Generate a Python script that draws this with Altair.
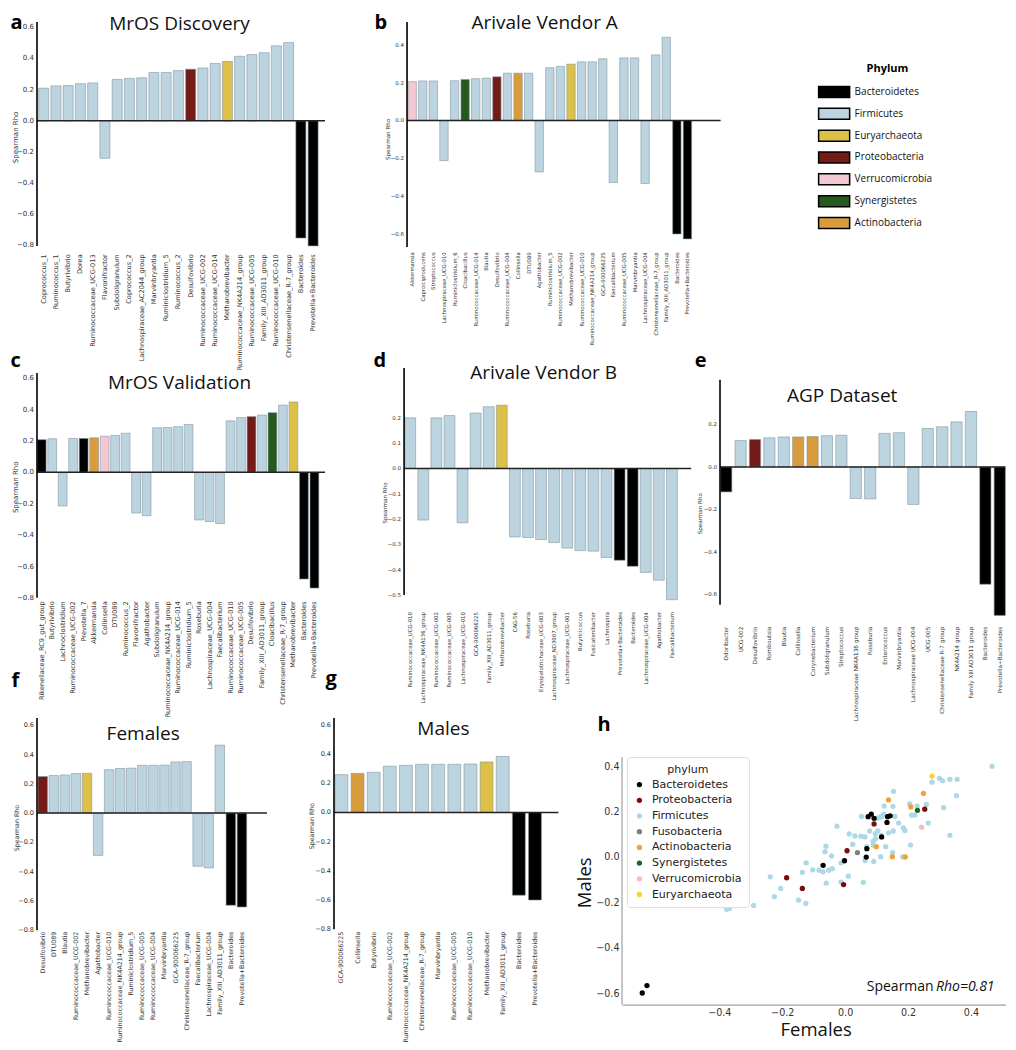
import altair as alt
import pandas as pd

# ---------------------------------------------------------------- data
BAC, FIR, EUR, PRO, VER, SYN, ACT = ("Bacteroidetes", "Firmicutes", "Euryarchaeota",
                                     "Proteobacteria", "Verrucomicrobia", "Synergistetes",
                                     "Actinobacteria")
PHYLA = [BAC, FIR, EUR, PRO, VER, SYN, ACT]
PHYLA_COLORS = ["#000000", "#bcd4e0", "#dcc048", "#731b17", "#f2c8d2", "#26591d", "#d89c3c"]

a_names = ["Coprococcus_1", "Ruminococcus_1", "Butyrivibrio", "Dorea", "Ruminococcaceae_UCG-013",
           "Flavonifractor", "Subdoligranulum", "Coprococcus_2", "Lachnospiraceae_AC2044_group",
           "Marvinbryantia", "Ruminiclostridium_5", "Ruminococcus_2", "Desulfovibrio",
           "Ruminococcaceae_UCG-002", "Ruminococcaceae_UCG-014", "Methanobrevibacter",
           "Ruminococcaceae_NK4A214_group", "Ruminococcaceae_UCG-005", "Family_XIII_AD3011_group",
           "Ruminococcaceae_UCG-010", "Christensenellaceae_R-7_group", "Bacteroides",
           "Prevotella+Bacteroides"]
a_vals = [0.209, 0.224, 0.226, 0.238, 0.243, -0.241, 0.266, 0.272, 0.276, 0.310, 0.310, 0.322,
          0.331, 0.339, 0.368, 0.381, 0.414, 0.425, 0.437, 0.481, 0.502, -0.753, -0.803]
a_phyla = [FIR] * 12 + [PRO, FIR, FIR, EUR] + [FIR] * 5 + [BAC, BAC]

b_names = ["Akkermansia", "Caproiciproducens", "Streptococcus", "Lachnospiraceae_UCG-010",
           "Ruminiclostridium_6", "Cloacibacillus", "Ruminococcaceae_UCG-014", "Blautia",
           "Desulfovibrio", "Ruminococcaceae_UCG-004", "Collinsella", "DTU089", "Agathobacter",
           "Ruminiclostridium_5", "Ruminococcaceae_UCG-002", "Methanobrevibacter",
           "Ruminococcaceae_UCG-010", "Ruminococcaceae_NK4A214_group", "GCA-900066225",
           "Faecalibacterium", "Ruminococcaceae_UCG-005", "Marvinbryantia",
           "Lachnospiraceae_UCG-004", "Christensenellaceae_R-7_group", "Family_XIII_AD3011_group",
           "Bacteroides", "Prevotella+Bacteroides"]
b_vals = [0.205, 0.209, 0.209, -0.212, 0.210, 0.217, 0.221, 0.224, 0.231, 0.250, 0.250, 0.250,
          -0.272, 0.279, 0.286, 0.298, 0.310, 0.310, 0.326, -0.328, 0.331, 0.331, -0.333, 0.347,
          0.440, -0.600, -0.626]
b_phyla = [VER, FIR, FIR, FIR, FIR, SYN, FIR, FIR, PRO, FIR, ACT, FIR, FIR, FIR, FIR, EUR,
           FIR, FIR, FIR, FIR, FIR, FIR, FIR, FIR, FIR, BAC, BAC]

c_names = ["Rikenellaceae_RC9_gut_group", "Butyrivibrio", "Lachnoclostridium",
           "Ruminococcaceae_UCG-002", "Prevotella_7", "Akkermansia", "Collinsella", "DTU089",
           "Ruminococcus_2", "Flavonifractor", "Agathobacter", "Subdoligranulum",
           "Ruminococcaceae_NK4A214_group", "Ruminococcaceae_UCG-014", "Ruminiclostridium_5",
           "Roseburia", "Lachnospiraceae_UCG-004", "Faecalibacterium", "Ruminococcaceae_UCG-010",
           "Ruminococcaceae_UCG-005", "Desulfovibrio", "Family_XIII_AD3011_group",
           "Cloacibacillus", "Christensenellaceae_R-7_group", "Methanobrevibacter", "Bacteroides",
           "Prevotella+Bacteroides"]
c_vals = [0.208, 0.214, -0.214, 0.216, 0.216, 0.220, 0.230, 0.235, 0.249, -0.259, -0.276, 0.284,
          0.286, 0.291, 0.305, -0.303, -0.313, -0.326, 0.328, 0.349, 0.355, 0.365, 0.380, 0.428,
          0.448, -0.679, -0.737]
c_phyla = [BAC, FIR, FIR, FIR, BAC, ACT, VER, FIR, FIR, FIR, FIR, FIR, FIR, FIR, FIR, FIR,
           FIR, FIR, FIR, FIR, PRO, FIR, SYN, FIR, EUR, BAC, BAC]

d_names = ["Ruminococcaceae_UCG-010", "Lachnospiraceae_NK4A136_group", "Ruminococcaceae_UCG-002",
           "Ruminococcaceae_UCG-005", "Lachnospiraceae_UCG-010", "GCA-900066225",
           "Family_XIII_AD3011_group", "Methanobrevibacter", "CAG-56", "Roseburia",
           "Erysipelotrichaceae_UCG-003", "Lachnospiraceae_ND3007_group",
           "Lachnospiraceae_UCG-001", "Butyricicoccus", "Fusicatenibacter", "Lachnospira",
           "Prevotella+Bacteroides", "Bacteroides", "Lachnospiraceae_UCG-004", "Agathobacter",
           "Faecalibacterium"]
d_vals = [0.200, -0.204, 0.200, 0.209, -0.215, 0.219, 0.244, 0.250, -0.271, -0.273, -0.281,
          -0.293, -0.315, -0.325, -0.327, -0.352, -0.363, -0.387, -0.411, -0.442, -0.519]
d_phyla = [FIR] * 7 + [EUR] + [FIR] * 8 + [BAC, BAC] + [FIR] * 3

e_names = ["Odoribacter", "UCG-002", "Desulfovibrio", "Romboutsia", "Blautia", "Collinsella",
           "Corynebacterium", "Subdoligranulum", "Streptococcus", "Lachnospiraceae NK4A136 group",
           "Roseburia", "Enterococcus", "Marvinbryantia", "Lachnospiraceae UCG-004", "UCG-005",
           "Christensenellaceae R-7 group", "NK4A214 group", "Family XIII AD3011 group",
           "Bacteroides", "Prevotella+Bacteroides"]
e_vals = [-0.118, 0.124, 0.129, 0.137, 0.141, 0.141, 0.143, 0.147, 0.149, -0.149, -0.151, 0.158,
          0.161, -0.177, 0.181, 0.189, 0.212, 0.261, -0.553, -0.700]
e_phyla = [BAC, FIR, PRO, FIR, FIR, ACT, ACT, FIR, FIR, FIR, FIR, FIR, FIR, FIR, FIR, FIR,
           FIR, FIR, BAC, BAC]

f_names = ["Desulfovibrio", "DTU089", "Blautia", "Ruminococcaceae_UCG-002", "Methanobrevibacter",
           "Agathobacter", "Ruminococcaceae_UCG-010", "Ruminococcaceae_NK4A214_group",
           "Ruminiclostridium_5", "Ruminococcaceae_UCG-005", "Ruminococcaceae_UCG-004",
           "Marvinbryantia", "GCA-900066225", "Christensenellaceae_R-7_group", "Faecalibacterium",
           "Lachnospiraceae_UCG-004", "Family_XIII_AD3011_group", "Bacteroides",
           "Prevotella+Bacteroides"]
f_vals = [0.250, 0.257, 0.261, 0.270, 0.272, -0.290, 0.297, 0.305, 0.307, 0.327, 0.327, 0.328,
          0.350, 0.352, -0.364, -0.375, 0.465, -0.631, -0.643]
f_phyla = [PRO, FIR, FIR, FIR, EUR] + [FIR] * 12 + [BAC, BAC]

g_names = ["GCA-900066225", "Collinsella", "Butyrivibrio", "Ruminococcaceae_UCG-002",
           "Ruminococcaceae_NK4A214_group", "Christensenellaceae_R-7_group", "Marvinbryantia",
           "Ruminococcaceae_UCG-005", "Ruminococcaceae_UCG-010", "Methanobrevibacter",
           "Family_XIII_AD3011_group", "Bacteroides", "Prevotella+Bacteroides"]
g_vals = [0.259, 0.268, 0.275, 0.317, 0.323, 0.330, 0.330, 0.330, 0.332, 0.346, 0.384,
          -0.567, -0.600]
g_phyla = [FIR, ACT, FIR, FIR, FIR, FIR, FIR, FIR, FIR, EUR, FIR, BAC, BAC]

# y tick labels of the bar panels
TICKS_08 = [-0.8, -0.6, -0.4, -0.2, 0.0, 0.2, 0.4, 0.6]
TICKS_B = [-0.6, -0.4, -0.2, 0.0, 0.2, 0.4]
TICKS_D = [-0.5, -0.4, -0.3, -0.2, -0.1, 0.0, 0.1, 0.2]
TICKS_E = [-0.6, -0.4, -0.2, 0.0, 0.2]

# scatter (panel h): females rho, males rho per genus
H_PHYLA = ["Bacteroidetes", "Proteobacteria", "Firmicutes", "Fusobacteria", "Actinobacteria",
           "Synergistetes", "Verrucomicrobia", "Euryarchaeota"]
H_COLORS = ["#000000", "#7b0c0c", "#add8e6", "#7f7f7f", "#f5a033", "#1f641e", "#ffb6c1",
            "#fbd233"]
firm_f = [0.467, 0.276, 0.300, 0.310, 0.333, 0.356, 0.154, 0.354, 0.124, 0.152, 0.205, 0.229,
          0.258, 0.313, 0.211, 0.222, 0.264, 0.052, 0.115, 0.123, 0.108, 0.158, 0.101, 0.170,
          0.185, 0.190, 0.153, 0.138, 0.104, 0.078, 0.096, 0.115, 0.097, 0.063, 0.050, 0.031,
          0.013, -0.026, 0.333, 0.208, 0.129, 0.089, 0.089, 0.068, 0.151, 0.183, 0.113, 0.091,
          0.063, 0.024, -0.013, -0.061, -0.064, -0.043, -0.124, -0.136, -0.103, -0.083, -0.070,
          -0.052, -0.041, 0.010, -0.013, -0.060, 0.058, -0.238, -0.205, -0.225, -0.148, -0.125,
          -0.291, -0.377, -0.368]
firm_m = [0.399, 0.329, 0.346, 0.335, 0.342, 0.342, 0.289, 0.270, 0.224, 0.223, 0.234, 0.224,
          0.231, 0.217, 0.184, 0.185, 0.149, 0.178, 0.177, 0.188, 0.174, 0.178, 0.170, 0.149,
          0.128, 0.116, 0.114, 0.106, 0.114, 0.114, 0.102, 0.095, 0.080, 0.088, 0.091, 0.092,
          0.101, 0.135, 0.095, 0.052, 0.045, 0.069, 0.052, 0.045, 0.019, 0.000, 0.001, -0.020,
          -0.016, 0.055, -0.026, 0.047, 0.023, 0.004, -0.026, -0.068, -0.057, -0.059, -0.066,
          -0.059, -0.052, -0.085, -0.111, -0.116, -0.112, -0.088, -0.139, -0.175, -0.191, -0.205,
          -0.214, -0.231, -0.227]
bact_f = [0.073, 0.083, 0.092, 0.135, 0.143, 0.133, 0.116, 0.069, 0.067, -0.002, -0.070,
          -0.630, -0.645]
bact_m = [0.177, 0.188, 0.170, 0.177, 0.181, 0.152, 0.088, 0.036, -0.001, -0.017, -0.037,
          -0.567, -0.600]
prot_f = [0.253, 0.092, 0.006, -0.005, -0.136, -0.186]
prot_m = [0.210, 0.145, 0.027, -0.122, -0.139, -0.092]
fuso_f, fuso_m = [0.039], [0.019]
acti_f = [0.138, 0.249, 0.209, 0.099, 0.150, 0.191]
acti_m = [0.251, 0.280, 0.220, 0.045, 0.001, 0.000]
syne_f, syne_m = [0.230], [0.205]
verr_f, verr_m = [0.243], [0.131]
eury_f, eury_m = [0.276], [0.356]

# ---------------------------------------------------------------- layout helpers
SX, SY = 0.983, 0.978


def tx(x):
    return 10 + (x - 2) * SX


def ty(y):
    return 12 + y * SY


P_COL, P_ROW = 8, 110
T1, T2, T3 = ty(10), ty(363), ty(720)
CX0, CX1, CX2 = tx(29), tx(330.7), tx(623)
W0 = CX1 - CX0 - P_COL
W1 = CX2 - CX1 - P_COL
W2 = tx(1013) - CX2
H1 = T2 - T1 - P_ROW
H2 = T3 - T2 - P_ROW
HF = ty(1013) - T3

ONE = pd.DataFrame({"v": [0]})


def fmt(t):
    s = "%.1f" % t
    if s == "-0.0":
        s = "0.0"
    return s.replace("-", "\u2212")


def bar_panel(names, vals, phyla, g, anchor=False):
    n = len(names)
    df = pd.DataFrame({"taxon": names, "rho": vals, "phylum": phyla})
    CX, T, W, H, Z, k = g["CX"], g["T"], g["W"], g["H"], g["Z"], g["k"]
    AX = tx(g["ax"])
    dx = AX - CX

    def val_page(py):
        return (Z - (py - 12) / SY) / k

    def val_ref(ry):
        return (Z - ry) / k

    pi = g["pi"]
    step = (g["last"] - g["first"]) / (n - pi)
    r0 = tx(g["first"] - step * pi / 2) - CX
    r1 = tx(g["last"] + step * pi / 2) - CX
    x_enc = alt.X("taxon:N", sort=names, title=None,
                  scale=alt.Scale(range=[r0, r1], paddingInner=pi, paddingOuter=pi / 2),
                  axis=alt.Axis(labelAngle=270, labelFontSize=g["fs_x"], labelFont="DejaVu Sans",
                                labelColor="#333333", labelPadding=2, ticks=False, tickSize=0,
                                domain=False, grid=False, labelOverlap=False, labelLimit=300,
                                offset=ty(g["lab"]) - (T + H) - 2))
    yscale = alt.Scale(domain=[val_page(T + H), val_page(T)], nice=False, zero=False)
    yaxis = alt.Axis(values=g["ticks"], labels=False, domain=False, ticks=False, tickSize=0,
                     grid=False, offset=-dx, title="Spearman Rho", titleFontSize=g["fs_t"],
                     titleFont="DejaVu Sans", titleFontWeight="normal", titleColor="#333333",
                     titleX=tx(g["ytx"]) - AX, titleY=ty(g["yty"]) - T, titleAngle=270,
                     titleBaseline="middle", titleAlign="center")
    bars = alt.Chart(df).mark_bar(stroke="#8597a0", strokeWidth=0.6).encode(
        x=x_enc, y=alt.Y("rho:Q", scale=yscale, axis=yaxis), y2=alt.datum(0),
        color=alt.Color("phylum:N", scale=alt.Scale(domain=PHYLA, range=PHYLA_COLORS),
                        legend=None))
    tick_df = pd.DataFrame({"rho": g["ticks"], "label": [fmt(t) for t in g["ticks"]]})
    tick_lab = alt.Chart(tick_df).mark_text(align="right", baseline="middle", font="DejaVu Sans",
                                            fontSize=g["fs_y"], color="#333333").encode(
        y=alt.Y("rho:Q", scale=yscale, axis=yaxis), x=alt.value(dx - 3), text="label:N")
    zero = alt.Chart(ONE).mark_rule(color="#222222", strokeWidth=1.5).encode(
        y=alt.datum(0), x=alt.value(dx), x2=alt.value(tx(g["zend"]) - CX))
    spine = alt.Chart(ONE).mark_rule(color="#000000", strokeWidth=1.6).encode(
        x=alt.value(dx), y=alt.datum(val_ref(g["sp_top"])), y2=alt.datum(val_ref(g["sp_bot"])))
    title = alt.Chart(ONE).mark_text(text=g["title"], font="Open Sans", fontSize=19,
                                     align="center", baseline="alphabetic", color="#111111").encode(
        x=alt.value(tx(g["tx"]) - CX), y=alt.value(ty(g["ty"]) - T))
    letter = alt.Chart(ONE).mark_text(text=g["letter"], font="Open Sans", fontSize=20,
                                      fontWeight="bold", align="left", baseline="alphabetic",
                                      color="#000000").encode(
        x=alt.value(tx(g["lx"]) - CX), y=alt.value(ty(g["ly"]) - T))
    layers = [bars, tick_lab, zero, spine, title, letter]
    if anchor:
        layers.append(alt.Chart(ONE).mark_rule(opacity=0, strokeWidth=0.01).encode(
            x=alt.value(8 - CX), x2=alt.value(9 - CX), y=alt.value(8 - T), y2=alt.value(9 - T)))
    return alt.layer(*layers).properties(width=W, height=H)


ga = dict(CX=CX0, ax=29, T=T1, W=W0, H=H1, Z=111.0, k=159.3, pi=0.18, first=30.7, last=315.0,
          lab=247, ticks=TICKS_08, fs_x=6.6, fs_y=7, fs_t=7, ytx=6.7, yty=127.5, zend=322,
          sp_top=10, sp_bot=239, title="MrOS Discovery", tx=174, ty=18, letter="a", lx=2, ly=17)
gb = dict(CX=CX1, ax=405, T=T1, W=W1, H=H1, Z=110.7, k=193.4, pi=0.21, first=406, last=694.5,
          lab=245, ticks=TICKS_B, fs_x=5.3, fs_y=5.5, fs_t=5.6,
          ytx=385, yty=129.5, zend=724, sp_top=10, sp_bot=240, title="Arivale Vendor A",
          tx=545, ty=17, letter="b", lx=372, ly=17)
gc = dict(CX=CX0, ax=29, T=T2, W=W0, H=H2, Z=469.7, k=160.6, pi=0.16, first=29.3, last=315.7,
          lab=601, ticks=TICKS_08, fs_x=6.6, fs_y=7, fs_t=7, ytx=6.7, yty=484.5, zend=322,
          sp_top=368, sp_bot=598, title="MrOS Validation", tx=174, ty=384, letter="c", lx=2,
          ly=362)
gd = dict(CX=CX1, ax=402, T=T2, W=W1, H=H2, Z=465.7, k=258.6, pi=0.17, first=402.7, last=680,
          lab=612, ticks=TICKS_D, fs_x=5.4, fs_y=5.5,
          fs_t=5.6, ytx=382, yty=500.5, zend=694, sp_top=363, sp_bot=595,
          title="Arivale Vendor B", tx=544, ty=374, letter="d", lx=371, ly=362)
ge = dict(CX=CX2, ax=722.7, T=T2, W=W2, H=H2, Z=464.1, k=217.0, pi=0.22, first=723.3, last=1013,
          lab=627, ticks=TICKS_E, fs_x=5.7, fs_y=5.5, fs_t=5.6, ytx=702,
          yty=511.5, zend=1013, sp_top=375, sp_bot=605, title="AGP Dataset", tx=847, ty=398,
          letter="e", lx=697, ly=362)
gf = dict(CX=CX0, ax=29, T=T3, W=W0, H=HF, Z=817.2, k=149.4, pi=0.14, first=30, last=242.3,
          lab=938, ticks=TICKS_08, fs_x=6.3, fs_y=6.5, fs_t=6.3, ytx=8.3, yty=832, zend=263,
          sp_top=720, sp_bot=937, title="Females", tx=137, ty=742, letter="f", lx=3, ly=688)
gg = dict(CX=CX1, ax=330.7, T=T3, W=W1, H=HF, Z=816.6, k=149.3, pi=0.2, first=331.7, last=541.7,
          lab=938, ticks=TICKS_08, fs_x=6.3, fs_y=6.5, fs_t=6.3, ytx=308.3, yty=830, zend=559,
          sp_top=720, sp_bot=936, title="Males", tx=442, ty=737, letter="g", lx=322, ly=686)

pa = bar_panel(a_names, a_vals, a_phyla, ga, anchor=True)
pb = bar_panel(b_names, b_vals, b_phyla, gb)
pc = bar_panel(c_names, c_vals, c_phyla, gc)
pd_ = bar_panel(d_names, d_vals, d_phyla, gd)
pe = bar_panel(e_names, e_vals, e_phyla, ge)
pf = bar_panel(f_names, f_vals, f_phyla, gf)
pg = bar_panel(g_names, g_vals, g_phyla, gg)

# ---------------------------------------------------------------- phylum legend cell
SWATCH = "M-1,-1H4.64V1H-1Z"
leg_points = alt.Chart(pd.DataFrame({"phylum": PHYLA})).mark_square(size=0).encode(
    color=alt.Color("phylum:N", scale=alt.Scale(domain=PHYLA, range=PHYLA_COLORS),
                    legend=alt.Legend(orient="none", legendX=tx(822) - CX2,
                                      legendY=ty(80.5) - T1 - 5.5, title=None,
                                      symbolType=SWATCH, symbolSize=121,
                                      symbolStrokeColor="black", symbolStrokeWidth=1.5,
                                      symbolOpacity=1, labelFont="Open Sans", labelFontSize=10,
                                      labelColor="#111111", labelOffset=24, rowPadding=4.85,
                                      padding=0)))
leg_title = alt.Chart(ONE).mark_text(text="Phylum", font="Open Sans", fontSize=11,
                                     fontWeight="bold", align="center", baseline="alphabetic",
                                     color="#000000").encode(
    x=alt.value(tx(893) - CX2), y=alt.value(ty(61) - T1))
legend_cell = alt.layer(leg_points, leg_title).properties(width=W2, height=H1)

# ---------------------------------------------------------------- scatter panel h
h_female = bact_f + prot_f + firm_f + fuso_f + acti_f + syne_f + verr_f + eury_f
h_male = bact_m + prot_m + firm_m + fuso_m + acti_m + syne_m + verr_m + eury_m
h_phylum = ([H_PHYLA[0]] * len(bact_f) + [H_PHYLA[1]] * len(prot_f) +
            [H_PHYLA[2]] * len(firm_f) + [H_PHYLA[3]] * len(fuso_f) +
            [H_PHYLA[4]] * len(acti_f) + [H_PHYLA[5]] * len(syne_f) +
            [H_PHYLA[6]] * len(verr_f) + [H_PHYLA[7]] * len(eury_f))
hdf = pd.DataFrame({"females": h_female, "males": h_male, "phylum": h_phylum})
hdf["order"] = [0 if p == "Firmicutes" else 1 for p in h_phylum]

hx_dom = [(623 - 850) / 320, (1013 - 850) / 320]
hy_dom = [(862 - 1013) / 232, (862 - 720) / 232]
pts = alt.Chart(hdf).mark_circle(size=28, opacity=1).encode(
    x=alt.X("females:Q", scale=alt.Scale(domain=hx_dom, nice=False, zero=False),
            axis=alt.Axis(values=[-0.4, -0.2, 0.0, 0.2, 0.4], format=".1f", grid=False,
                          ticks=False, tickSize=0, domainColor="#a0a0a0", domainWidth=1.2,
                          labelFontSize=9.6, labelFont="DejaVu Sans", labelColor="#333333",
                          labelPadding=3, labelOverlap=False, labelFlush=False,
                          title="Females", titleFont="Open Sans",
                          titleFontSize=18.5, titleFontWeight="normal", titleColor="#111111",
                          titleX=tx(820) - CX2, titleY=ty(1045) - ty(1013),
                          titleBaseline="alphabetic", titleAlign="center")),
    y=alt.Y("males:Q", scale=alt.Scale(domain=hy_dom, nice=False, zero=False),
            axis=alt.Axis(values=[-0.6, -0.4, -0.2, 0.0, 0.2, 0.4], format=".1f", grid=False,
                          ticks=False, tickSize=0, domain=False, labelFontSize=9.6,
                          labelFont="DejaVu Sans", labelColor="#333333", labelPadding=3,
                          labelOverlap=False, labelFlush=False,
                          title="Males", titleFont="Open Sans", titleFontSize=18.5,
                          titleFontWeight="normal", titleColor="#111111",
                          titleX=tx(585) - CX2, titleY=ty(888) - T3, titleAngle=270,
                          titleBaseline="middle", titleAlign="center")),
    order=alt.Order("order:Q"),
    color=alt.Color("phylum:N", scale=alt.Scale(domain=H_PHYLA, range=H_COLORS),
                    legend=alt.Legend(orient="none", legendX=tx(628) - CX2,
                                      legendY=ty(760) - T3, title="phylum",
                                      titleFontWeight="normal", titleFont="DejaVu Sans",
                                      titleFontSize=11, titleColor="#222222",
                                      titleAnchor="middle", titlePadding=4,
                                      labelFont="DejaVu Sans", labelFontSize=11,
                                      labelColor="#222222", labelOffset=7, fillColor="white",
                                      strokeColor="#dcdcdc", cornerRadius=3, padding=7,
                                      symbolType="circle", symbolSize=28,
                                      symbolStrokeWidth=0, rowPadding=3.7)))
hspine = alt.Chart(ONE).mark_rule(color="#a0a0a0", strokeWidth=1.2).encode(
    x=alt.value(0), y=alt.datum((862 - 760) / 232), y2=alt.datum((862 - 1013) / 232))
rho_y = (862 - 999) / 232
sp_txt = alt.Chart(ONE).mark_text(text="Spearman", font="Open Sans", fontSize=14, align="left",
                                  baseline="alphabetic", color="#111111").encode(
    x=alt.datum((872 - 850) / 320), y=alt.datum(rho_y))
rho_txt = alt.Chart(ONE).mark_text(text="Rho=0.81", font="Open Sans", fontSize=14,
                                   fontStyle="italic", align="right", baseline="alphabetic",
                                   color="#111111").encode(
    x=alt.datum((1002 - 850) / 320), y=alt.datum(rho_y))
h_letter = alt.Chart(ONE).mark_text(text="h", font="Open Sans", fontSize=20, fontWeight="bold",
                                    align="left", baseline="alphabetic", color="#000000").encode(
    x=alt.value(tx(598) - CX2), y=alt.value(ty(733) - T3))
ph = alt.layer(pts, hspine, sp_txt, rho_txt, h_letter).properties(width=W2, height=HF)

# ---------------------------------------------------------------- assemble
chart = alt.concat(pa, pb, legend_cell, pc, pd_, pe, pf, pg, ph, columns=3,
                   spacing={"row": P_ROW, "column": P_COL}, bounds="flush",
                   align="each").resolve_scale(
    color="independent", x="independent", y="independent").properties(
    padding=0, background="white").configure_view(stroke=None)

chart.save("out.html", embed_options={"renderer": "svg", "actions": False})
